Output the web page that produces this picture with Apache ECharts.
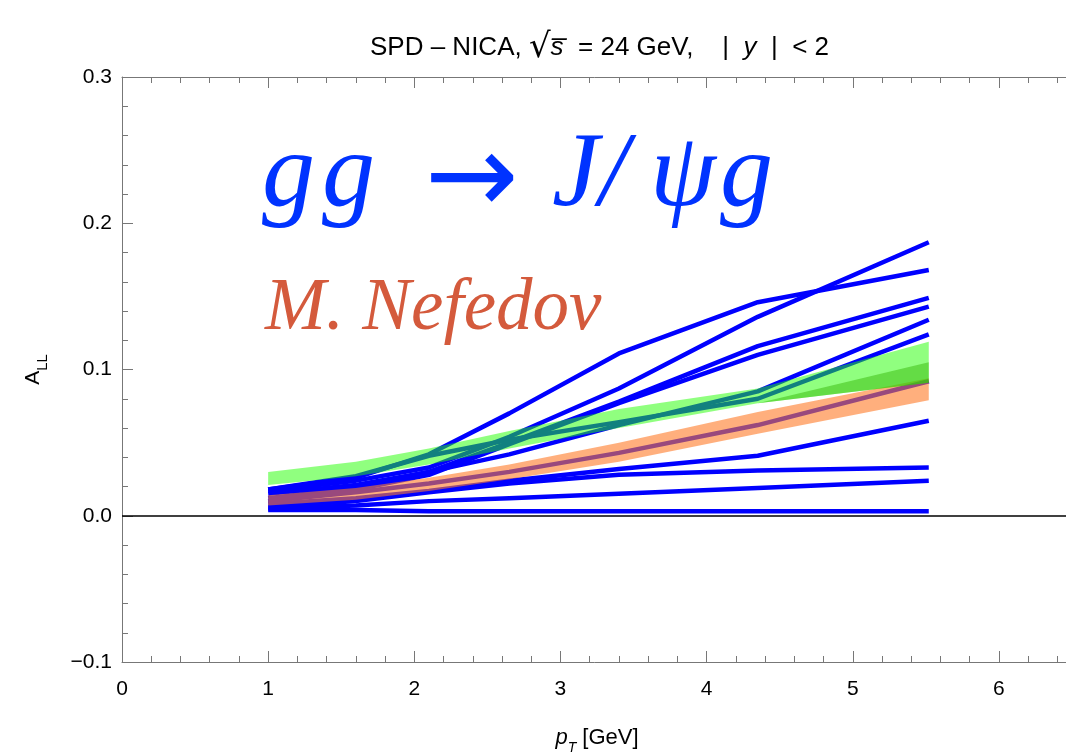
<!DOCTYPE html>
<html><head><meta charset="utf-8">
<script src="https://cdn.jsdelivr.net/npm/echarts@6/dist/echarts.min.js"></script>
<style>html,body{margin:0;padding:0;background:#fff}#c{width:1066px;height:754px}</style>
</head><body><div id="c"></div>
<script>
// pT knots (GeV)
const knots = [1.0, 1.6, 2.1, 2.65, 3.4, 4.35, 5.52];
// blue A_LL curves
const curveA = [0.018, 0.026, 0.042, 0.070, 0.111, 0.146, 0.168];
const curveB = [0.017, 0.024, 0.033, 0.054, 0.087, 0.136, 0.187];
const curveC = [0.012, 0.019, 0.030, 0.050, 0.078, 0.116, 0.149];
const curveD = [0.010, 0.018, 0.028, 0.049, 0.077, 0.110, 0.143];
const curveE = [0.015, 0.021, 0.030, 0.042, 0.062, 0.085, 0.134];
const curveF = [0.018, 0.027, 0.041, 0.052, 0.064, 0.080, 0.124];
const curveG = [0.010, 0.016, 0.022, 0.030, 0.043, 0.062, 0.092];
const curveH = [0.008, 0.012, 0.017, 0.024, 0.032, 0.041, 0.065];
const curveI = [0.006, 0.010, 0.016, 0.022, 0.028, 0.031, 0.033];
const curveJ = [0.005, 0.007, 0.010, 0.012, 0.015, 0.019, 0.024];
const curveK = [0.004, 0.004, 0.003, 0.003, 0.003, 0.003, 0.003];
// uncertainty bands
const orangeLow  = [0.007, 0.011, 0.017, 0.025, 0.037, 0.056, 0.079];
const orangeHigh = [0.014, 0.019, 0.026, 0.035, 0.050, 0.071, 0.094];
const greenLow   = [0.021, 0.027, 0.035, 0.046, 0.060, 0.077, 0.091];
const greenHigh  = [0.030, 0.037, 0.046, 0.058, 0.073, 0.087, 0.119];
const innerKnots = [4.35, 5.52];
const innerLow   = [0.077, 0.091];
const innerHigh  = [0.077, 0.105];
// axes
const xTicks = [0, 1, 2, 3, 4, 5, 6];
const yTicks = [-0.1, 0.0, 0.1, 0.2, 0.3];

const blueCurves = [curveA, curveB, curveC, curveD, curveE, curveF, curveG, curveH, curveI, curveJ, curveK];

const pts = (xs, ys) => xs.map((x, i) => [x, ys[i]]);

const series = [];
blueCurves.forEach((c, k) => {
  series.push({
    type: 'line', data: pts(knots, c), symbol: 'none', silent: true, z: 2,
    lineStyle: { color: '#0000ff', width: 4.5, join: 'round' },
    markLine: k === 0 ? {
      silent: true, symbol: 'none', label: { show: false },
      lineStyle: { color: '#000', width: 1.5, type: 'solid' },
      data: [{ yAxis: 0 }]
    } : undefined
  });
});
function band(xs, lo, hi, color, z) {
  series.push({
    type: 'custom', silent: true, z: z, data: [[xs[0], lo[0]]],
    renderItem: (params, api) => {
      const top = xs.map((x, i) => api.coord([x, hi[i]]));
      const bot = xs.map((x, i) => api.coord([x, lo[i]])).reverse();
      return { type: 'polygon', shape: { points: top.concat(bot) }, style: { fill: color } };
    }
  });
}
band(knots, orangeLow, orangeHigh, 'rgba(255,122,38,0.6)', 5);
band(knots, greenLow, greenHigh, 'rgba(33,255,0,0.5)', 6);
band(innerKnots, innerLow, innerHigh, 'rgba(56,185,12,0.5)', 7);

const axisCommonX = {
  type: 'value', min: 0, max: 6.5, interval: 1,
  axisLine: { show: true, onZero: false, lineStyle: { color: '#777', width: 1 } },
  axisTick: { show: true, inside: true, length: 11, lineStyle: { color: '#777' } },
  minorTick: { show: true, splitNumber: 5, length: 6, lineStyle: { color: '#777' } },
  splitLine: { show: false }
};
const blueText = (txt, x, y, size, fam, style) => ({
  type: 'text', silent: true, z: 10,
  style: { text: txt, x: x, y: y, fill: '#0033ff', align: 'left', verticalAlign: 'middle',
    font: style + ' ' + size + 'px "' + fam + '"' }
});
const chart = echarts.init(document.getElementById('c'), null, { renderer: 'canvas' });
chart.setOption({
  animation: false,
  backgroundColor: '#fff',
  grid: { left: 122, top: 77, width: 950, height: 585, containLabel: false, outerBoundsMode: 'none' },
  xAxis: [
    Object.assign({}, axisCommonX, {
      position: 'bottom',
      axisLabel: { show: true, fontSize: 21, color: '#000', margin: 17, fontFamily: 'Liberation Sans',
        formatter: v => xTicks.includes(v) ? String(v) : '' },
      name: '{p|p}{t|T} [GeV]', nameLocation: 'middle', nameGap: 65,
      nameTextStyle: { fontSize: 22, color: '#000', fontFamily: 'Liberation Sans',
        rich: { p: { fontStyle: 'italic', fontSize: 22, fontFamily: 'Liberation Sans' },
                t: { fontStyle: 'italic', fontSize: 14, fontFamily: 'Liberation Sans', verticalAlign: 'bottom', lineHeight: 14, padding: [0, 0, -6, 0] } } }
    }),
    Object.assign({}, axisCommonX, { position: 'top', axisLabel: { show: false } })
  ],
  yAxis: [{
    type: 'value', min: -0.1, max: 0.3, interval: 0.1, position: 'left',
    axisLine: { show: true, onZero: false, lineStyle: { color: '#777', width: 1 } },
    axisTick: { show: true, inside: true, length: 11, lineStyle: { color: '#777' } },
    minorTick: { show: true, splitNumber: 5, length: 6, lineStyle: { color: '#777' } },
    splitLine: { show: false },
    axisLabel: { fontSize: 21, color: '#000', margin: 10, fontFamily: 'Liberation Sans',
      formatter: v => { const t = yTicks.find(q => Math.abs(q - v) < 1e-9); return t === undefined ? '' : (t < 0 ? '\u2212' + Math.abs(t).toFixed(1) : t.toFixed(1)); } },
    name: '{a|A}{b|LL}', nameLocation: 'middle', nameGap: 78, nameRotate: 90,
    nameTextStyle: { color: '#000', fontFamily: 'Liberation Sans',
      rich: { a: { fontSize: 21, fontFamily: 'Liberation Sans' },
              b: { fontSize: 15, fontFamily: 'Liberation Sans', verticalAlign: 'bottom', lineHeight: 15, padding: [0, 0, -6, 0] } } }
  }],
  title: {
    text: 'SPD \u2013 NICA, {r|\u221A}{i|s\u0305}  = 24 GeV,    |  {i|y}  |  < 2',
    left: 365, top: 26,
    textStyle: { fontSize: 26, fontWeight: 'normal', color: '#000', fontFamily: 'Liberation Sans',
      rich: { i: { fontStyle: 'italic', fontSize: 26, fontFamily: 'Liberation Sans' },
              r: { fontSize: 34, fontFamily: 'DejaVu Sans' } } }
  },
  graphic: [
    blueText('g', 262, 177, 106, 'Liberation Serif', 'italic'),
    blueText('g', 322, 177, 106, 'Liberation Serif', 'italic'),
    blueText('\u2192', 425, 184, 112, 'DejaVu Sans', 'normal'),
    blueText('J/', 552, 177, 106, 'Liberation Serif', 'italic'),
    blueText('\u03C8', 650, 177, 106, 'Liberation Serif', 'italic'),
    blueText('g', 720, 177, 106, 'Liberation Serif', 'italic'),
    { type: 'text', silent: true, z: 10,
      style: { text: 'M. Nefedov', x: 265, y: 310, fill: '#d45a3c', align: 'left', verticalAlign: 'middle',
        font: 'italic 73px "Liberation Serif"' } }
  ],
  series: series
});
</script></body></html>
